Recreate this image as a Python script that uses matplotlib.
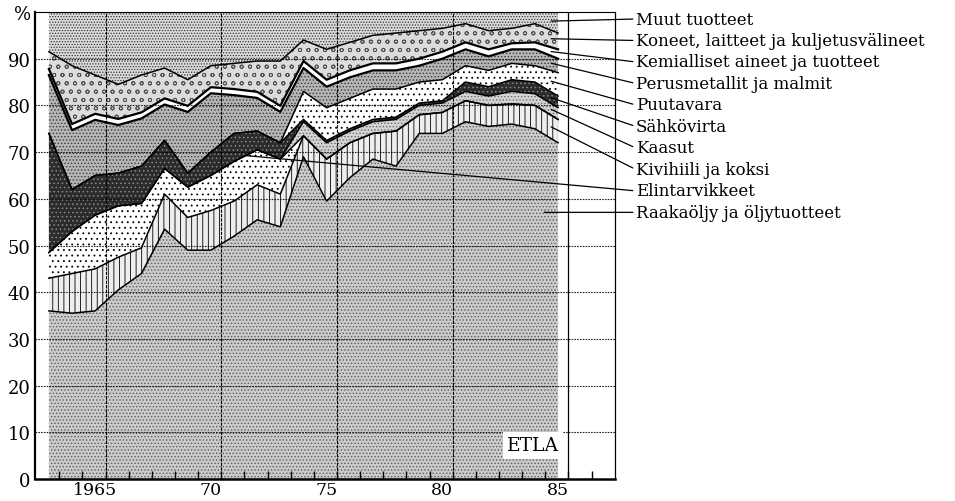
import numpy as np
import matplotlib.pyplot as plt

plt.rcParams['font.family'] = 'DejaVu Serif'
plt.rcParams['hatch.linewidth'] = 0.6

# ── data: shares of imports (%), 1963-1985 ──
years = np.arange(1963, 1986)

raakaoljy = [36, 35.5, 36, 40.5, 44, 53.5, 49, 49, 52, 55.5, 54, 69, 59.5, 64.5, 68.5, 67, 74, 74, 76.5, 75.5, 76, 75, 72]
kivihiili = [7, 8.5, 9, 7, 5.5, 7.5, 7, 8.5, 7.5, 7.5, 7, 4.5, 9, 7.5, 5.5, 7.5, 4, 4.5, 4.5, 4.5, 4.3, 5, 5]
elintarvikkeet = [5.5, 9, 11.5, 11, 9.5, 5.5, 6.5, 7.5, 8.5, 7.5, 7.5, 0, 0, 0, 0, 0, 0, 0, 0, 0, 0, 0, 0]
kaasut = [0, 0, 0, 0, 0, 0, 0, 0, 0, 0, 0, 3, 3.5, 2.5, 2.5, 2.5, 2, 2, 2, 2, 2.7, 2.5, 2.5]
sahkovirta = [25.5, 9, 8.5, 7, 8, 6, 3, 5, 6, 4, 3.5, 0.5, 0.5, 0.5, 0.5, 0.5, 0.5, 0.5, 2, 2, 2.5, 2.5, 2.5]
puutavara = [0, 0, 0, 0, 0, 0, 0, 0, 0, 0, 0, 6, 7, 6.5, 6.5, 6, 4.5, 4.5, 3.5, 3.5, 3.5, 3.5, 5]
perusmetallit = [12.5, 12.7, 11.9, 10.3, 10.2, 7.7, 13.1, 12.6, 8.2, 7.1, 6.6, 5, 4.5, 4.5, 4, 4, 3.5, 4.5, 3.5, 3, 3, 3.5, 3]
kemialliset = [1.3, 1.3, 1.3, 1.3, 1.3, 1.3, 1.3, 1.3, 1.3, 1.3, 1.3, 1.5, 1.5, 1.5, 1.5, 1.5, 1.5, 1.5, 1.5, 1.5, 1.3, 1.5, 2]
koneet = [3.7, 12.5, 8.3, 7.4, 8, 6.5, 5.6, 4.6, 5.5, 6.6, 9.6, 4.5, 6.5, 6, 6, 6.5, 6, 5, 4, 4, 3.2, 4, 3.5]
muut = [8.5, 11.5, 13.5, 15.5, 13.5, 12, 14.5, 11.5, 11, 10.5, 10.5, 6, 8, 6.5, 5, 4.5, 4, 3.5, 2.5, 4, 3.5, 2.5, 4.5]

# stacking order, bottom -> top
series = [
    ("Raakaöljy ja öljytuotteet", raakaoljy),
    ("Kivihiili ja koksi", kivihiili),
    ("Elintarvikkeet", elintarvikkeet),
    ("Kaasut", kaasut),
    ("Sähkövirta", sahkovirta),
    ("Puutavara", puutavara),
    ("Perusmetallit ja malmit", perusmetallit),
    ("Kemialliset aineet ja tuotteet", kemialliset),
    ("Koneet, laitteet ja kuljetusvälineet", koneet),
    ("Muut tuotteet", muut),
]

# label order as printed at the right, top -> bottom
legend_order = ["Muut tuotteet", "Koneet, laitteet ja kuljetusvälineet",
                "Kemialliset aineet ja tuotteet", "Perusmetallit ja malmit",
                "Puutavara", "Sähkövirta", "Kaasut", "Kivihiili ja koksi",
                "Elintarvikkeet", "Raakaöljy ja öljytuotteet"]

# fill patterns imitating the printed screens
patterns = {
    "Raakaöljy ja öljytuotteet": ('#cbcbcb', '.....', '#5a5a5a'),
    "Kivihiili ja koksi": ('#eeeeee', '|||', 'black'),
    "Elintarvikkeet": ('white', '...', 'black'),
    "Kaasut": ('#d4d4d4', '.....', '#6a6a6a'),
    "Sähkövirta": ('#2b2b2b', '....', '#8a8a8a'),
    "Puutavara": ('white', '...', 'black'),
    "Perusmetallit ja malmit": ('#b6b6b6', '.....', '#3a3a3a'),
    "Kemialliset aineet ja tuotteet": ('white', None, 'white'),
    "Koneet, laitteet ja kuljetusvälineet": ('#dcdcdc', 'oo', '#505050'),
    "Muut tuotteet": ('#dadada', '......', '#333333'),
}

fig = plt.figure(figsize=(9.55, 5.02), dpi=100)
ax = fig.add_axes([35 / 955, 1 - 480 / 502, 580 / 955, 467 / 502])

bottom = np.zeros(len(years))
tops, mids = {}, {}
for name, vals in series:
    vals = np.asarray(vals, dtype=float)
    top = bottom + vals
    fc, hatch, hc = patterns[name]
    ax.fill_between(years, bottom, top, facecolor=fc, hatch=hatch,
                    edgecolor=hc, linewidth=0, zorder=1)
    tops[name] = top
    mids[name] = (bottom + top) / 2
    bottom = top

for name, _ in series[:-1]:
    lw = 1.6 if name.startswith("Kemialliset") or name.startswith("Perus") else 1.1
    ax.plot(years, tops[name], color='black', lw=lw, zorder=2)

# grid
for v in range(10, 100, 10):
    ax.axhline(v, color='black', lw=0.8, ls=(0, (1.5, 1)), alpha=0.85, zorder=3)
for gx in [1965.45, 1970.45, 1975.45, 1980.45]:
    ax.axvline(gx, color='black', lw=0.8, ls=(0, (3, 1)), zorder=3)
ax.axvline(1985.45, color='black', lw=0.9, zorder=3)

ax.set_xlim(1962.4, 1987.46)
ax.set_ylim(0, 100)

ax.set_xticks([1965, 1970, 1975, 1980, 1985])
ax.set_xticklabels(['1965', '70', '75', '80', '85'], fontsize=12.5)
ax.set_xticks(np.arange(1963, 1987) + 0.45, minor=True)
ax.tick_params(axis='x', which='major', length=0, pad=1.5)
ax.tick_params(axis='x', which='minor', direction='in', length=6, width=1)
ax.set_yticks(range(0, 101, 10))
ax.set_yticklabels([str(v) for v in range(0, 91, 10)] + ['%'], fontsize=13)
ax.tick_params(axis='y', length=0, pad=3)

ax.spines['left'].set_linewidth(1.6)
ax.spines['bottom'].set_linewidth(1.8)
ax.spines['top'].set_linewidth(0.8)
ax.spines['top'].set_linestyle((0, (1.5, 1)))
ax.spines['right'].set_linewidth(0.9)

# labels with leader lines
for i, name in enumerate(legend_order):
    ly = 98.5 - 4.6 * i
    if name.startswith("Raakaöljy"):
        anchor = (1984.4, ly)
    elif name == "Elintarvikkeet":
        anchor = (1971.5, np.interp(1971.5, years, tops[name]))
    else:
        anchor = (1984.7, np.interp(1984.7, years, mids[name]))
    ax.annotate(name, xy=anchor, xytext=(1988.35, ly), textcoords='data',
                ha='left', va='center', fontsize=12, annotation_clip=False,
                arrowprops=dict(arrowstyle='-', color='black', lw=0.9,
                                shrinkA=0, shrinkB=0, relpos=(0, 0.5)),
                zorder=5)

ax.text(1985.05, 7.2, 'ETLA', ha='right', va='center', fontsize=13.5, zorder=6,
        bbox=dict(facecolor='white', edgecolor='none', pad=3))

fig.savefig('out.png', dpi=100)
